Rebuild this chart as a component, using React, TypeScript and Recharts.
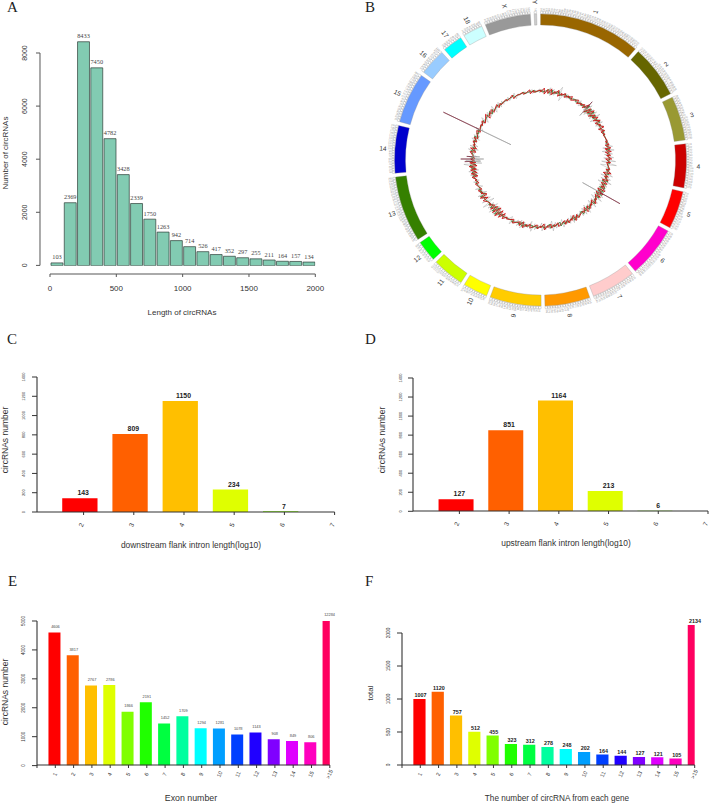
import React from "react";
import {
  BarChart, Bar, XAxis, YAxis, Cell, LabelList,
  PieChart, Pie, RadarChart, Radar, PolarAngleAxis, PolarRadiusAxis,
} from "recharts";

/* ---------- Panel A ---------- */
const lengthBinMids = [50, 150, 250, 350, 450, 550, 650, 750, 850, 950, 1050, 1150, 1250, 1350, 1450, 1550, 1650, 1750, 1850, 1950];
const lengthCounts = [103, 2369, 8433, 7450, 4782, 3428, 2339, 1750, 1263, 942, 714, 526, 417, 352, 297, 255, 211, 164, 157, 134];
const lengthXTicks = [0, 500, 1000, 1500, 2000];
const lengthYTicks = [0, 2000, 4000, 6000, 8000];

/* ---------- Panel B ---------- */
const chromNames = ["1", "2", "3", "4", "5", "6", "7", "8", "9", "10", "11", "12", "13", "14", "15", "16", "17", "18", "X", "Y"];
const chromSpans = [40.5, 21, 17.6, 17.4, 15.1, 20.4, 17.7, 18, 20.4, 9.8, 12.7, 8.4, 26.2, 18.9, 20.2, 10.6, 7.9, 7.9, 18.2, 1];
const chromColors = ["#996600", "#666600", "#999933", "#cc0000", "#ff0000", "#ff00cc", "#ffcccc", "#ff9900", "#ffcc00", "#ffff00", "#ccff00", "#00ff00", "#358000", "#0000cc", "#6699ff", "#99ccff", "#00ffff", "#ccffff", "#999999", "#cccccc"];
const CHROM_GAP = 1.5;
const TRACK_BASE = 68;
const redSpikes = [
  1, 3, 2, 3, 1, 3, 1, 2, 1, 2, 0, 2, 1, 2, 5, 3, 4, 2, 3, 3, 1, 3, 2, 1, 0, 1, 2, 3, 3, 2,
  3, 2, 0, 2, 4, 2, 3, 3, 2, 4, 4, 3, 1, 3, 1, 2, 3, 1, 0, 2, 3, 1, 2, 2, 0, 2, 1, 2, 1, 3,
  1, 2, 0, 2, 1, 3, 2, 0, 2, 0, 1, 3, 4, 5, 4, 3, 1, 0, 3, 4, 1, 2, 0, 2, 1, 3, 3, 3, 4, 3,
  2, 0, 3, 3, 1, 2, 2, 0, 2, 0, 1, 2, 0, 3, 1, 2, 0, 2, 1, 0, 1, 0, 2, 0, 0, 1, 0, 2, 1, 0,
];
const greenSpikes = [
  1, 0, 2, 2, 1, 2, 0, 1, 1, 0, 1, 0, 1, 1, 4, 3, 3, 2, 1, 2, 1, 0, 1, 0, 0, 1, 1, 2, 1, 0,
  1, 1, 0, 1, 2, 1, 3, 2, 3, 3, 3, 2, 1, 2, 1, 2, 1, 2, 0, 1, 2, 0, 1, 1, 2, 0, 1, 2, 0, 1,
  0, 1, 1, 0, 1, 2, 1, 0, 1, 0, 0, 1, 2, 4, 3, 2, 1, 0, 1, 3, 1, 1, 0, 1, 0, 2, 2, 2, 3, 2,
  1, 0, 2, 1, 0, 1, 2, 1, 1, 0, 0, 1, 0, 1, 2, 1, 0, 1, 0, 0, 0, 0, 1, 0, 0, 1, 0, 0, 1, 0,
];
const graySpikes = [
  2, 1, 4, 3, 1, 7, 2, 2, 2, 1, 2, 3, 1, 3, 6, 4, 5, 6, 3, 4, 3, 2, 1, 0, 1, 2, 5, 6, 4, 5,
  7, 8, 2, 3, 6, 5, 7, 4, 4, 3, 5, 6, 4, 5, 3, 5, 4, 3, 2, 3, 4, 3, 2, 4, 2, 3, 5, 2, 3, 4,
  2, 3, 5, 2, 3, 4, 3, 2, 4, 1, 2, 3, 4, 5, 6, 4, 7, 5, 3, 5, 2, 4, 1, 3, 2, 4, 5, 3, 9, 7,
  4, 2, 5, 4, 2, 4, 3, 2, 4, 1, 2, 4, 1, 3, 2, 4, 1, 3, 2, 1, 2, 0, 3, 1, 0, 1, 0, 2, 1, 2,
];
const outlierAngles = [295.7, 119.4, 42, 270, 268, 272];
const outlierOuter = [108, 91, 77, 80, 76, 74];
const outlierInner = [33, 48, 58.5, 57, 60, 61];

/* ---------- Panels C and D ---------- */
const flankBins = [2, 3, 4, 5, 6];
const flankTicks = [2, 3, 4, 5, 6, 7];
const downstreamCounts = [143, 809, 1150, 234, 7];
const upstreamCounts = [127, 851, 1164, 213, 6];
const flankYTicks = [0, 200, 400, 600, 800, 1000, 1200, 1400];

/* ---------- Panels E and F ---------- */
const countLabels = ["", "1", "2", "3", "4", "5", "6", "7", "8", "9", "10", "11", "12", "13", "14", "15", ">15"];
const countPositions = [1, 2, 3, 4, 5, 6, 7, 8, 9, 10, 11, 12, 13, 14, 15, 16];
const countTicks = [0, 1, 2, 3, 4, 5, 6, 7, 8, 9, 10, 11, 12, 13, 14, 15, 16];
const exonCounts = [4606, 3817, 2767, 2786, 1866, 2191, 1452, 1709, 1294, 1281, 1078, 1143, 908, 849, 806, 12284];
const EXON_CAP = 5000;
const exonYTicks = [0, 1000, 2000, 3000, 4000, 5000];
const perGeneCounts = [1007, 1120, 757, 512, 455, 323, 312, 278, 248, 202, 164, 144, 127, 121, 105, 2134];
const perGeneYTicks = [0, 500, 1000, 1500, 2000];

const rainbow = ["#ff0000", "#ff6000", "#ffbf00", "#dfff00", "#80ff00", "#20ff00", "#00ff40", "#00ff9f", "#00ffff", "#009fff", "#0040ff", "#2000ff", "#8000ff", "#df00ff", "#ff00bf", "#ff0060"];

const SANS = "'Liberation Sans', Arial, sans-serif";
const SERIF = "'Liberation Serif', 'Times New Roman', serif";
const abs = (left: number, top: number): React.CSSProperties => ({ position: "absolute", left, top });

/* ---------- Layers ---------- */
type BarsProps = {
  left: number; right: number; top: number; bottom: number;
  xDomain: [number, number]; yMax: number;
  positions: number[]; values: number[]; labels: number[];
  barSize: number; fills: string[]; stroke?: string; strokeWidth?: number;
  labelDx: number; labelDy: number; labelFont: number; labelFamily: string; labelWeight: number; labelFill: string;
};

function BarsLayer(p: BarsProps) {
  const data = p.positions.map((pos, i) => ({ pos, value: p.values[i], label: p.labels[i] }));
  const pad = 20;
  return (
    <div style={abs(p.left - pad, p.top - pad)}>
      <BarChart
        width={p.right - p.left + pad * 2} height={p.bottom - p.top + pad + 2} data={data}
        margin={{ top: pad, right: pad, left: pad, bottom: 2 }}
      >
        <XAxis hide type="number" dataKey="pos" domain={p.xDomain} allowDataOverflow height={0} />
        <YAxis hide type="number" domain={[0, p.yMax]} allowDataOverflow width={0} />
        <Bar dataKey="value" barSize={p.barSize} stroke={p.stroke} strokeWidth={p.strokeWidth} isAnimationActive={false}>
          {p.values.map((_, i) => (
            <Cell key={i} fill={p.fills[i % p.fills.length]} />
          ))}
          <LabelList
            dataKey="label"
            content={(l: any) => (
              <text
                x={l.x + l.width / 2 + p.labelDx} y={l.y - p.labelDy}
                textAnchor="middle" dominantBaseline="central"
                fontFamily={p.labelFamily} fontSize={p.labelFont} fontWeight={p.labelWeight} fill={p.labelFill}
              >{l.value}</text>
            )}
          />
        </Bar>
      </BarChart>
    </div>
  );
}

type XLayerProps = {
  left: number; right: number; y: number; domain: [number, number]; ticks: number[];
  label: (v: number) => string; dx: number; dy: number; font: number; rotate: number; stroke: string; strokeWidth: number; fill: string;
};

function XAxisLayer(p: XLayerProps) {
  const data = p.ticks.map((pos) => ({ pos }));
  const pad = 10;
  return (
    <div style={abs(p.left - pad, p.y - 3)}>
      <BarChart width={p.right - p.left + pad * 2} height={33} data={data} margin={{ top: 2, right: pad, left: pad, bottom: 0 }}>
        <XAxis
          type="number" dataKey="pos" domain={p.domain} ticks={p.ticks} interval={0} allowDataOverflow height={30}
          axisLine={{ stroke: p.stroke, strokeWidth: p.strokeWidth }} tickLine={{ stroke: p.stroke }} tickSize={3} tickMargin={0}
          tick={(t: any) => {
            const tx = t.x + p.dx;
            const ty = t.y + p.dy;
            return (
              <text
                x={tx} y={ty} transform={p.rotate ? `rotate(${p.rotate} ${tx} ${ty})` : undefined}
                textAnchor="middle" dominantBaseline="central" fontFamily={SANS} fontSize={p.font} fill={p.fill}
              >{p.label(t.payload.value)}</text>
            );
          }}
        />
        <YAxis hide width={0} type="number" domain={[0, 1]} />
      </BarChart>
    </div>
  );
}

type YLayerProps = {
  x: number; top: number; bottom: number; ticks: number[]; tickSize: number; dx: number; font: number;
  stroke: string; strokeWidth: number; fill: string;
};

function YAxisLayer(p: YLayerProps) {
  const data = p.ticks.map((value) => ({ value }));
  const maxTick = p.ticks[p.ticks.length - 1];
  return (
    <div style={abs(p.x - 40, p.top - 8)}>
      <BarChart width={44} height={p.bottom - p.top + 16} data={data} margin={{ top: 8, right: 2, left: 4, bottom: 8 }}>
        <YAxis
          type="number" dataKey="value" domain={[0, maxTick]} ticks={p.ticks} interval={0} allowDataOverflow width={36}
          axisLine={{ stroke: p.stroke, strokeWidth: p.strokeWidth }} tickLine={{ stroke: p.stroke }} tickSize={p.tickSize} tickMargin={0}
          tick={(t: any) => (
            <text
              x={t.x + p.dx} y={t.y} transform={`rotate(-90 ${t.x + p.dx} ${t.y})`}
              textAnchor="middle" dominantBaseline="central" fontFamily={SANS} fontSize={p.font} fill={p.fill}
            >{t.payload.value}</text>
          )}
        />
        <XAxis hide height={0} />
      </BarChart>
    </div>
  );
}

/* ---------- Panel B ---------- */
const chromData = chromNames.map((name, i) => ({ name, span: chromSpans[i] }));

const rulerData = chromSpans.flatMap((span) => {
  const n = Math.max(1, Math.round(span / 1.0));
  const rows: { span: number; text: string }[] = [];
  for (let k = 0; k < n; k++) rows.push({ span: span / n, text: String((k + 1) * 10) });
  rows.push({ span: CHROM_GAP, text: "" });
  return rows;
});

function polar(cx: number, cy: number, r: number, deg: number) {
  const a = (-deg * Math.PI) / 180;
  return { x: cx + r * Math.cos(a), y: cy + r * Math.sin(a) };
}

function CircosRing() {
  return (
    <div style={abs(370, 0)}>
      <PieChart width={339} height={320} margin={{ top: 0, right: 0, left: 0, bottom: 0 }}>
        <Pie
          data={rulerData} dataKey="span" cx={170.5} cy={160} innerRadius={146.5} outerRadius={148.5}
          startAngle={90} endAngle={-270} paddingAngle={0} isAnimationActive={false} labelLine={false}
          label={(l: any) => {
            if (!l.payload.text) return null;
            const q = polar(l.cx, l.cy, 149, l.midAngle);
            const right = Math.cos((l.midAngle * Math.PI) / 180) >= 0;
            return (
              <text
                x={q.x} y={q.y} transform={`rotate(${right ? -l.midAngle : 180 - l.midAngle} ${q.x} ${q.y})`}
                textAnchor={right ? "start" : "end"} dominantBaseline="central"
                fontFamily={SANS} fontSize={2.6} fill="#8a8a8a"
              >{l.payload.text}</text>
            );
          }}
        >
          {rulerData.map((r, i) => (
            <Cell key={i} fill="none" stroke={r.text ? "#9a9a9a" : "none"} strokeWidth={0.35} />
          ))}
        </Pie>
        <Pie
          data={chromData} dataKey="span" nameKey="name" cx={170.5} cy={160} innerRadius={135} outerRadius={146}
          startAngle={90} endAngle={-270} paddingAngle={CHROM_GAP} isAnimationActive={false} labelLine={false}
          label={(l: any) => {
            const q = polar(l.cx, l.cy, 158, l.midAngle);
            const right = Math.cos((l.midAngle * Math.PI) / 180) >= 0;
            return (
              <text
                x={q.x} y={q.y} transform={`rotate(${right ? -l.midAngle : 180 - l.midAngle} ${q.x} ${q.y})`}
                textAnchor="middle" dominantBaseline="central" fontFamily={SANS} fontSize={6.5} fill="#333"
              >{l.name}</text>
            );
          }}
        >
          {chromData.map((_, i) => (
            <Cell key={i} fill={chromColors[i]} stroke="#8a8a8a" strokeWidth={0.3} />
          ))}
        </Pie>
      </PieChart>
    </div>
  );
}

type TrackRow = { angle: number; r: number };

function spikeRows(values: number[], offset: number): TrackRow[] {
  return values.flatMap((dev, i) => {
    const angle = i * 3 + offset;
    return [
      { angle, r: TRACK_BASE + dev },
      { angle, r: TRACK_BASE - dev },
    ];
  });
}

function TrackLayer({ rows, stroke, strokeWidth }: { rows: TrackRow[]; stroke: string; strokeWidth: number }) {
  return (
    <div style={abs(370, 0)}>
      <RadarChart width={339} height={320} cx={170.7} cy={159} outerRadius={110} data={rows} startAngle={90} endAngle={-270} margin={{ top: 0, right: 0, left: 0, bottom: 0 }}>
        <PolarAngleAxis dataKey="angle" type="number" domain={[0, 360]} tick={false} axisLine={false} tickLine={false} />
        <PolarRadiusAxis type="number" domain={[0, 110]} tick={false} axisLine={false} tickLine={false} />
        <Radar dataKey="r" stroke={stroke} strokeWidth={strokeWidth} fill="none" dot={false} isAnimationActive={false} />
      </RadarChart>
    </div>
  );
}

/* ---------- Titles ---------- */
const letters: [string, number, number][] = [["A", 7, 12], ["B", 365, 12], ["C", 7, 344], ["D", 365, 344], ["E", 8, 586], ["F", 365, 586]];
const axisTitles: [string, number, number, number, number][] = [
  ["Length of circRNAs", 182, 312, 0, 8],
  ["Number of circRNAs", 5, 153, -90, 8],
  ["downstream flank intron length(log10)", 191, 545, 0, 8.4],
  ["circRNAs number", 5, 440, -90, 8.5],
  ["upstream flank intron length(log10)", 566, 543, 0, 8.4],
  ["circRNAs number", 382, 440, -90, 8.5],
  ["Exon number", 191, 798, 0, 8.8],
  ["circRNAs number", 5, 692, -90, 8.5],
  ["The number of circRNA from each gene", 557, 798, 0, 8.2],
  ["total", 370, 693, -90, 8],
];

const barLabelBold = { labelFamily: SANS, labelWeight: 700, labelFill: "#222" };
const AXIS_DARK = { stroke: "#333", strokeWidth: 1.1, fill: "#333" };

export default function App() {
  return (
    <div style={{ position: "absolute", left: 0, top: 0, width: 709, height: 803, background: "#fff", overflow: "hidden" }}>
      {/* A */}
      <BarsLayer
        left={50} right={315.3} top={32.06} bottom={265.7} xDomain={[0, 2000]} yMax={8800}
        positions={lengthBinMids} values={lengthCounts} labels={lengthCounts}
        barSize={13.27} fills={["#82cbb2"]} stroke="#2f3f3a" strokeWidth={0.7}
        labelDx={0} labelDy={6} labelFont={6.3} labelFamily={SERIF} labelWeight={400} labelFill="#444"
      />
      <YAxisLayer x={39.7} top={53.3} bottom={265.7} ticks={lengthYTicks} tickSize={4} dx={-11.7} font={7} stroke="#555" strokeWidth={1} fill="#333" />
      <XAxisLayer left={50} right={315.3} y={274.3} domain={[0, 2000]} ticks={lengthXTicks} label={(v) => String(v)} dx={0} dy={11.7} font={8} rotate={0} stroke="#555" strokeWidth={1} fill="#333" />

      {/* B */}
      <CircosRing />
      <TrackLayer rows={spikeRows(graySpikes, 2)} stroke="#8c8c8c" strokeWidth={0.35} />
      <TrackLayer rows={spikeRows(greenSpikes, 1)} stroke="#2f7d2f" strokeWidth={0.8} />
      <TrackLayer rows={spikeRows(redSpikes, 0)} stroke="#c81414" strokeWidth={0.9} />
      {outlierAngles.map((angle, i) => (
        <React.Fragment key={i}>
          <TrackLayer rows={[{ angle, r: outlierOuter[i] }, { angle, r: TRACK_BASE }]} stroke="#7a2f3f" strokeWidth={0.6} />
          <TrackLayer rows={[{ angle, r: TRACK_BASE }, { angle, r: outlierInner[i] }]} stroke="#9a9a9a" strokeWidth={0.6} />
        </React.Fragment>
      ))}

      {/* C */}
      <BarsLayer
        left={36.7} right={334.3} top={377.3} bottom={512.3} xDomain={[1.137, 7.066]} yMax={1400}
        positions={flankBins} values={downstreamCounts} labels={downstreamCounts}
        barSize={35.3} fills={rainbow} labelDx={3.3} labelDy={5.3} labelFont={6.9} {...barLabelBold}
      />
      <YAxisLayer x={36.7} top={377.3} bottom={512.3} ticks={flankYTicks} tickSize={5} dx={-8.7} font={4} {...AXIS_DARK} />
      <XAxisLayer left={36.7} right={334.3} y={512.3} domain={[1.072, 7]} ticks={flankTicks} label={(v) => String(v)} dx={-2.5} dy={9.7} font={6.5} rotate={-65} {...AXIS_DARK} />

      {/* D */}
      <BarsLayer
        left={413.3} right={708.3} top={378} bottom={511.3} xDomain={[1.127, 7.06]} yMax={1400}
        positions={flankBins} values={upstreamCounts} labels={upstreamCounts}
        barSize={35} fills={rainbow} labelDx={3.3} labelDy={5.3} labelFont={6.9} {...barLabelBold}
      />
      <YAxisLayer x={413.3} top={378} bottom={511.3} ticks={flankYTicks} tickSize={5} dx={-7.6} font={4} {...AXIS_DARK} />
      <XAxisLayer left={413.3} right={708.3} y={511.3} domain={[1.067, 7]} ticks={flankTicks} label={(v) => String(v)} dx={-2.8} dy={9.7} font={6.5} rotate={-65} {...AXIS_DARK} />

      {/* E */}
      <BarsLayer
        left={36.7} right={329.5} top={620.7} bottom={765.3} xDomain={[0.037, 16.06]} yMax={EXON_CAP}
        positions={countPositions} values={exonCounts.map((v) => Math.min(v, EXON_CAP))} labels={exonCounts}
        barSize={12} fills={rainbow} labelDx={1} labelDy={6} labelFont={3.9} labelFamily={SANS} labelWeight={400} labelFill="#444"
      />
      <YAxisLayer x={36.7} top={620.7} bottom={765.3} ticks={exonYTicks} tickSize={5} dx={-8.7} font={4.5} {...AXIS_DARK} />
      <XAxisLayer left={36.7} right={329.5} y={765.3} domain={[0, 16]} ticks={countTicks} label={(v) => countLabels[v]} dx={-0.5} dy={6.2} font={5.5} rotate={-65} {...AXIS_DARK} />

      {/* F */}
      <BarsLayer
        left={402.3} right={695} top={625} bottom={765.3} xDomain={[0.043, 16.044]} yMax={2134}
        positions={countPositions} values={perGeneCounts} labels={perGeneCounts}
        barSize={12.2} fills={rainbow} labelDx={1.1} labelDy={3.7} labelFont={5.4} {...barLabelBold}
      />
      <YAxisLayer x={402.3} top={633.3} bottom={765.3} ticks={perGeneYTicks} tickSize={5} dx={-8.3} font={4.8} {...AXIS_DARK} />
      <XAxisLayer left={402.3} right={695} y={765.3} domain={[0, 16]} ticks={countTicks} label={(v) => countLabels[v]} dx={-0.5} dy={6.2} font={5.5} rotate={-65} {...AXIS_DARK} />

      <svg width={709} height={803} style={{ position: "absolute", left: 0, top: 0, pointerEvents: "none" }}>
        {letters.map(([t, x, y]) => (
          <text key={t} x={x} y={y} fontFamily={SERIF} fontSize={15} fill="#222">{t}</text>
        ))}
        {axisTitles.map(([t, x, y, rot, size]) => (
          <text key={t + x} x={x} y={y} transform={rot ? `rotate(${rot} ${x} ${y})` : undefined} textAnchor="middle" dominantBaseline="central" fontFamily={SANS} fontSize={size} fill="#333">{t}</text>
        ))}
      </svg>
    </div>
  );
}
